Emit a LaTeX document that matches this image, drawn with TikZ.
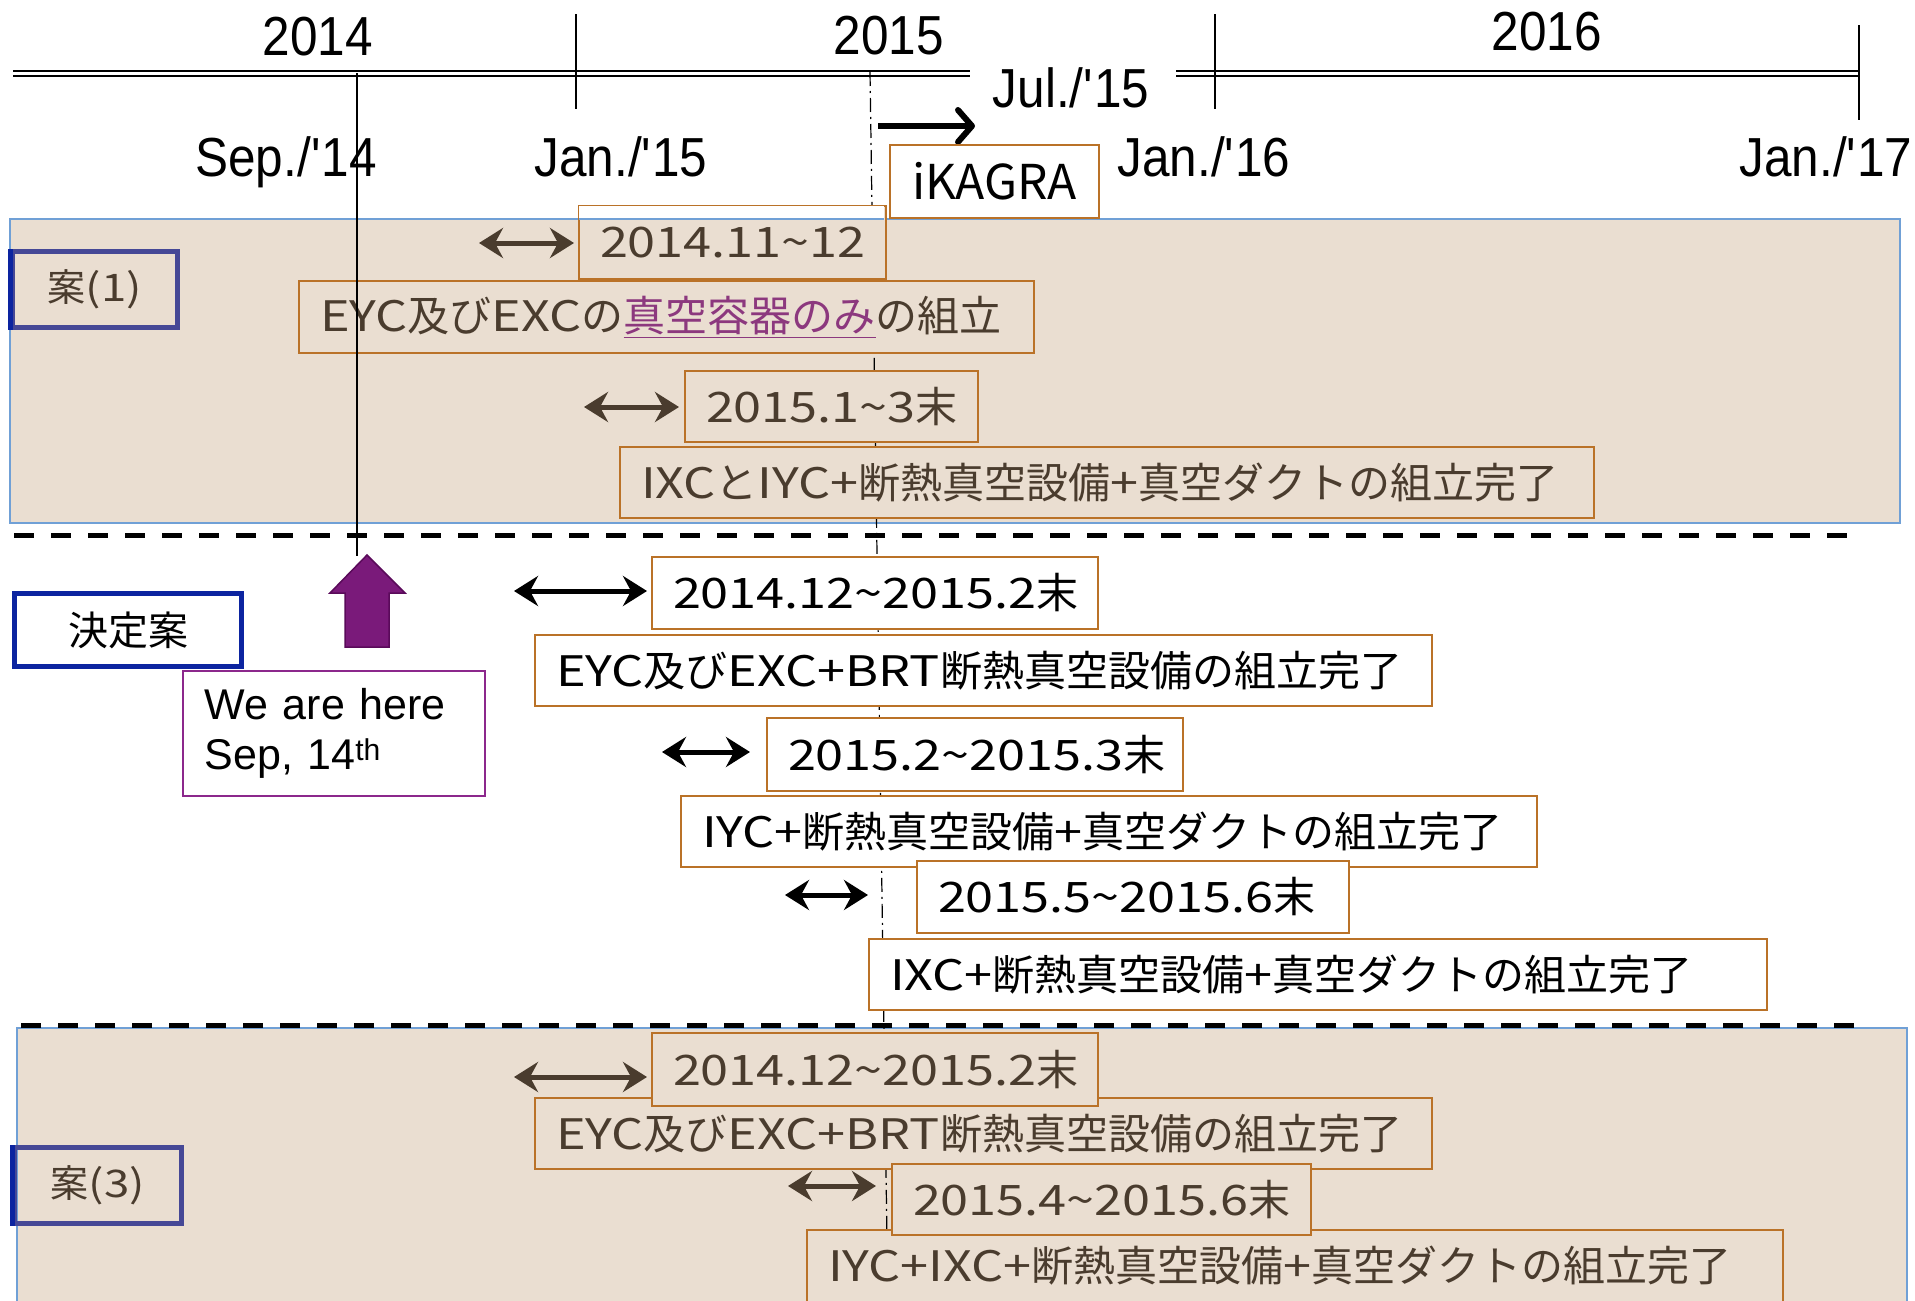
\documentclass[tikz,border=0pt]{standalone}
\usepackage{fontspec}
\usetikzlibrary{arrows.meta}
\newfontfamily\jpf{Noto Sans CJK JP}
\newfontfamily\ltf[FakeStretch=1.2]{Noto Sans CJK JP}
\newfontfamily\handf[FakeStretch=0.9]{Liberation Sans}
\newfontfamily\cmcf{Liberation Sans}
\newcommand\tld{\textasciitilde}
\newcommand\bxfont{\fontsize{42pt}{46pt}\selectfont}
\newcommand\tpfont{\fontsize{55pt}{60pt}\selectfont\handf}
\definecolor{beige}{RGB}{234,222,209}
\definecolor{lblue}{RGB}{112,160,214}
\definecolor{obord}{RGB}{186,114,40}
\definecolor{btext}{RGB}{74,60,46}
\definecolor{ptext}{RGB}{140,56,126}
\definecolor{vblue}{RGB}{70,72,150}
\definecolor{dblue}{RGB}{12,36,160}
\definecolor{parrow}{RGB}{122,26,122}
\definecolor{pbord}{RGB}{140,40,140}
\begin{document}
\begin{tikzpicture}[x=1pt,y=-1pt,
  obox/.style={draw=obord, line width=2pt, inner xsep=21pt, inner ysep=0pt, anchor=north west, font=\bxfont, align=left},
  shaded/.style={obox, fill=beige, text=btext},
  plain/.style={obox, fill=white, text=black},
  lab/.style={line width=5pt, inner sep=0pt, anchor=north west},
  toplab/.style={font=\tpfont, anchor=base, inner sep=0pt},
  region/.style={fill=beige, draw=lblue, line width=1.5pt},
  sepline/.style={line width=5pt, dash pattern=on 20pt off 17pt},
  dbl/.style={line width=5pt, {Stealth[length=24pt,width=30pt,inset=8pt]}-{Stealth[length=24pt,width=30pt,inset=8pt]}},
  dashdot/.style={line width=1.2pt, dash pattern=on 14pt off 5pt on 2pt off 5pt}
]
\useasboundingbox[fill=white] (0,0) rectangle (1915,1301);

% shaded regions
\path[region] (10,219) rectangle (1900,523);
\path[region] (17,1028) rectangle (1907,1312);

% separators
\draw[sepline] (14,535) -- (1862,535);
\draw[sepline] (21,1025) -- (1869,1025);

% time axis
\draw[line width=2pt] (13,70.5) -- (970,70.5) (13,75.5) -- (970,75.5);
\draw[line width=2pt] (1176,70.5) -- (1859,70.5) (1176,75.5) -- (1859,75.5);
\draw[line width=1.2pt] (576,14) -- (576,109);
\draw[line width=1.2pt] (1215,14) -- (1215,109);
\draw[line width=1.2pt] (1859,25) -- (1859,120);
\coordinate (ddtop) at (870,72);
\coordinate (ddbot) at (887,1240);
\draw[dashdot] (ddtop) -- (ddbot);

\node[toplab] (y14) at (318,55) {2014};
\node[toplab] (y15) at (889,54) {2015};
\node[toplab] (y16) at (1547,50) {2016};
\node[toplab] (sep14) at (286,176) {Sep./\textquotesingle14};
\node[toplab] (jan15) at (621,176) {Jan./\textquotesingle15};
\node[toplab] (jan16) at (1204,176) {Jan./\textquotesingle16};
\node[toplab] (jan17) at (1826,176) {Jan./\textquotesingle17};
\node[toplab] (jul15) at (1071,107) {Jul./\textquotesingle15};
\coordinate (julA) at (878,126);
\coordinate (julB) at (975,126);
\draw[line width=6pt, -{Straight Barb[length=14pt,width=32pt,round]}] (julA) -- (julB);

\node[plain, inner xsep=0pt, minimum width=209, minimum height=73, font=\fontsize{48pt}{52pt}\selectfont\jpf] (ikagra) at (889,144) {iKAGRA};

% ---- 案(1)
\node[lab, draw=vblue, minimum width=165, minimum height=76, text=btext, font=\fontsize{38pt}{42pt}\selectfont] (lab1) at (10,249) {{\jpf 案}{\ltf (1)}};
\draw[dblue, line width=5pt] (lab1.north west) -- (lab1.south west);
\node[shaded, text width=265, minimum height=73] (b11) at (578,205) {{\ltf 2014.11\tld12}};
\fill[white] (579,206) rectangle (884,218.3);
\draw[lblue, line width=1.5pt] (579,219) -- (884,219);
\node[shaded, text width=693, minimum height=72] (b12) at (298,280) {{\ltf EYC}{\jpf 及び}{\ltf EXC}{\jpf の}{\color{ptext}\jpf\underline{真空容器のみ}}{\jpf の組立}};
\node[shaded, text width=251, minimum height=71] (b13) at (684,370) {{\ltf 2015.1\tld3}{\jpf 末}};
\node[shaded, text width=932, minimum height=71] (b14) at (619,446) {{\ltf IXC}{\jpf と}{\ltf IYC+}{\jpf 断熱真空設備}{\ltf +}{\jpf 真空ダクトの組立完了}};
\coordinate (a1l) at (479,243); \coordinate (a1r) at (574,243);
\draw[dbl, btext] (a1l) -- (a1r);
\coordinate (a2l) at (584,407); \coordinate (a2r) at (679,407);
\draw[dbl, btext] (a2l) -- (a2r);

% ---- 決定案
\node[lab, draw=dblue, minimum width=227, minimum height=73, font=\fontsize{40pt}{44pt}\selectfont\jpf] (lab2) at (12,591) {決定案};
\node[draw=pbord, line width=1.5pt, fill=white, anchor=north west, minimum width=302, minimum height=125, inner sep=0pt, text width=258, align=left, font=\fontsize{43pt}{50pt}\selectfont\cmcf] (here) at (182,670) {We are here\\Sep, 14\textsuperscript{th}};
\node[plain, text width=404, minimum height=72] (b21) at (651,556) {{\ltf 2014.12\tld2015.2}{\jpf 末}};
\node[plain, text width=855, minimum height=71] (b22) at (534,634) {{\ltf EYC}{\jpf 及び}{\ltf EXC+BRT}{\jpf 断熱真空設備の組立完了}};
\node[plain, text width=374, minimum height=73] (b23) at (766,717) {{\ltf 2015.2\tld2015.3}{\jpf 末}};
\node[plain, text width=814, minimum height=71] (b24) at (680,795) {{\ltf IYC+}{\jpf 断熱真空設備}{\ltf +}{\jpf 真空ダクトの組立完了}};
\node[plain, text width=390, minimum height=72] (b25) at (916,860) {{\ltf 2015.5\tld2015.6}{\jpf 末}};
\node[plain, text width=856, minimum height=71] (b26) at (868,938) {{\ltf IXC+}{\jpf 断熱真空設備}{\ltf +}{\jpf 真空ダクトの組立完了}};
\coordinate (a3l) at (514,591); \coordinate (a3r) at (647,591);
\draw[dbl] (a3l) -- (a3r);
\coordinate (a4l) at (662,752); \coordinate (a4r) at (750,752);
\draw[dbl] (a4l) -- (a4r);
\coordinate (a5l) at (785,895); \coordinate (a5r) at (868,895);
\draw[dbl] (a5l) -- (a5r);

% ---- 案(3)
\node[lab, draw=vblue, minimum width=167, minimum height=76, text=btext, font=\fontsize{38pt}{42pt}\selectfont] (lab3) at (12,1145) {{\jpf 案}{\ltf (3)}};
\draw[dblue, line width=5pt] (lab3.north west) -- (lab3.south west);
\node[shaded, text width=855, minimum height=71] (b32) at (534,1097) {{\ltf EYC}{\jpf 及び}{\ltf EXC+BRT}{\jpf 断熱真空設備の組立完了}};
\node[shaded, text width=404, minimum height=73] (b31) at (651,1032) {{\ltf 2014.12\tld2015.2}{\jpf 末}};
\node[shaded, text width=934, minimum height=72] (b34) at (806,1229) {{\ltf IYC+IXC+}{\jpf 断熱真空設備}{\ltf +}{\jpf 真空ダクトの組立完了}};
\node[shaded, text width=377, minimum height=71] (b33) at (891,1163) {{\ltf 2015.4\tld2015.6}{\jpf 末}};
\coordinate (a6l) at (514,1077); \coordinate (a6r) at (647,1077);
\draw[dbl, btext] (a6l) -- (a6r);
\coordinate (a7l) at (788,1186); \coordinate (a7r) at (876,1186);
\draw[dbl, btext] (a7l) -- (a7r);

% ---- we are here
\coordinate (septop) at (357,73);
\coordinate (sepbot) at (357,556);
\draw[line width=1.2pt] (septop) -- (sepbot);
\draw[fill=parrow, draw={rgb,255:red,90;green,10;blue,90}, line width=1.5pt]
  (345,647) -- (345,593) -- (330,593) -- (367,555) -- (405,593) -- (389,593) -- (389,647) -- cycle;
\end{tikzpicture}
\end{document}
